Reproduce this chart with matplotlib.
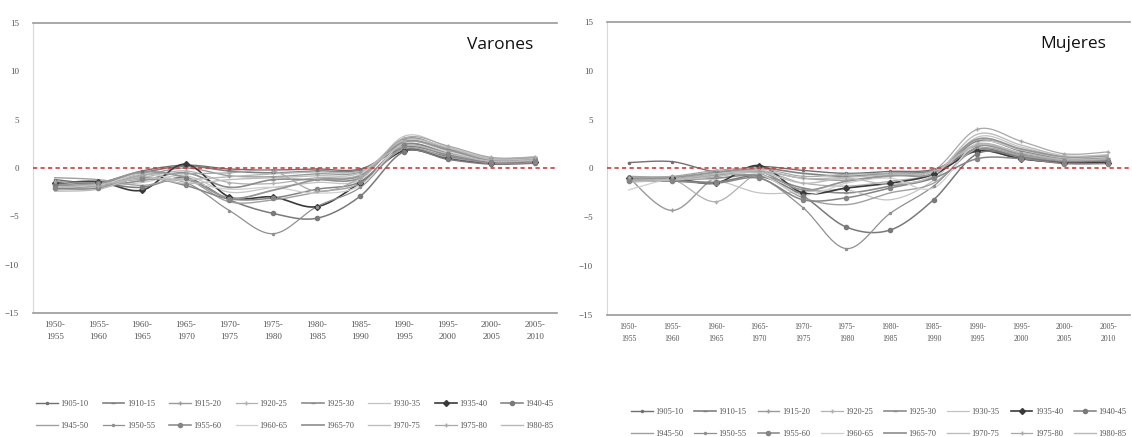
import matplotlib
matplotlib.use("Agg")
import matplotlib.pyplot as plt
import numpy as np

periodos = ["1950-\n1955", "1955-\n1960", "1960-\n1965", "1965-\n1970", "1970-\n1975", "1975-\n1980",
            "1980-\n1985", "1985-\n1990", "1990-\n1995", "1995-\n2000", "2000-\n2005", "2005-\n2010"]

cohortes = ["1905-10", "1910-15", "1915-20", "1920-25", "1925-30", "1930-35", "1935-40", "1940-45",
            "1945-50", "1950-55", "1955-60", "1960-65", "1965-70", "1970-75", "1975-80", "1980-85"]

varones = [
    [-1.2, -1.5, -0.3, 0.3, -0.1, -0.2, -0.1, -0.1, 2.0, 1.2, 0.6, 0.8],
    [-1.5, -1.6, -0.5, 0.2, -0.3, -0.5, -0.3, -0.2, 2.2, 1.4, 0.7, 0.9],
    [-1.8, -1.7, -0.8, 0.0, -0.8, -0.9, -0.6, -0.4, 2.5, 1.6, 0.8, 1.0],
    [-2.0, -1.8, -1.0, -0.3, -1.5, -1.6, -1.0, -0.7, 2.8, 1.8, 0.9, 1.0],
    [-2.2, -1.9, -1.3, -0.5, -2.0, -1.2, -1.2, -1.0, 3.0, 2.0, 1.0, 1.1],
    [-2.3, -2.0, -1.5, -0.8, -2.5, -2.0, -1.5, -1.2, 3.3, 2.2, 1.0, 1.2],
    [-1.6, -1.4, -2.3, 0.4, -3.0, -3.0, -4.0, -1.5, 1.8, 1.0, 0.5, 0.6],
    [-1.8, -1.6, -2.0, -1.0, -3.3, -4.7, -5.2, -2.9, 1.7, 0.9, 0.4, 0.5],
    [-1.0, -1.2, -1.8, -1.2, -3.5, -3.3, -2.5, -1.6, 2.0, 1.1, 0.6, 0.7],
    [-1.4, -1.5, -1.2, -1.5, -4.4, -6.8, -4.0, -2.0, 2.2, 1.3, 0.5, 0.6],
    [-2.1, -2.1, -1.0, -1.8, -3.2, -3.1, -2.2, -1.4, 2.4, 1.5, 0.6, 0.8],
    [-1.9, -1.8, -0.6, -1.4, -2.2, -2.0, -2.6, -1.8, 2.6, 1.7, 0.7, 0.9],
    [-1.7, -1.6, -0.4, -1.0, -3.1, -2.3, -1.2, -0.8, 2.7, 1.9, 0.8, 1.0],
    [-2.4, -2.2, -0.9, -1.6, -1.2, -1.0, -0.8, -0.5, 2.9, 2.1, 0.9, 1.0],
    [-1.3, -1.9, -0.7, -0.6, -0.5, -0.3, -2.4, -1.0, 3.1, 2.3, 1.1, 1.1],
    [-2.0, -1.7, -1.1, -1.2, -0.9, -0.6, -0.4, -0.3, 2.3, 1.5, 0.7, 0.8],
]

mujeres = [
    [0.6, 0.7, -0.3, 0.2, -0.2, -0.5, -0.3, -0.1, 1.8, 1.0, 0.6, 0.6],
    [-1.0, -1.0, -0.8, 0.0, -0.5, -0.8, -0.5, -0.2, 2.0, 1.2, 0.7, 0.7],
    [-0.9, -4.3, -0.9, -0.3, -1.0, -1.2, -0.8, -0.3, 2.3, 1.4, 0.8, 0.8],
    [-1.1, -1.1, -3.4, -0.5, -1.5, -1.8, -1.3, -0.5, 2.5, 1.6, 0.9, 1.0],
    [-1.2, -1.2, -1.0, -0.7, -2.0, -2.5, -1.8, -0.8, 2.8, 1.8, 1.0, 1.1],
    [-1.3, -1.1, -1.2, -2.5, -2.4, -2.2, -3.2, -1.2, 3.2, 2.2, 1.2, 1.3],
    [-1.0, -1.0, -1.5, 0.3, -2.5, -2.0, -1.5, -0.6, 1.8, 1.0, 0.6, 0.6],
    [-1.2, -1.2, -1.4, -0.8, -2.8, -6.0, -6.3, -3.2, 1.5, 1.2, 0.7, 0.8],
    [-0.8, -0.9, -0.6, -0.5, -3.0, -3.7, -2.5, -1.5, 2.0, 1.3, 0.8, 0.9],
    [-1.1, -1.0, -0.7, -0.9, -4.0, -8.2, -4.6, -1.8, 2.2, 1.5, 0.9, 1.0],
    [-1.3, -1.3, -1.5, -1.0, -3.2, -3.0, -2.0, -1.0, 1.0, 1.0, 0.5, 0.5],
    [-2.2, -1.0, -0.5, -0.6, -2.7, -1.5, -1.0, -2.0, 2.6, 1.9, 1.1, 1.2],
    [-1.0, -0.9, -0.4, -0.3, -2.2, -1.3, -0.7, -0.5, 3.0, 2.0, 1.2, 1.3],
    [-1.4, -1.2, -0.8, -0.4, -1.5, -1.0, -1.6, -0.7, 3.5, 2.4, 1.3, 1.4],
    [-0.9, -0.8, -0.2, 0.0, -0.8, -0.6, -0.5, -0.2, 4.0, 2.8, 1.5, 1.7],
    [-1.2, -1.1, -0.6, -0.2, -1.0, -0.9, -0.6, -0.3, 2.4, 1.6, 0.9, 1.0],
]

# line styles per cohort (gray shades, excel-like markers)
colores = ["#707070", "#808080", "#9a9a9a", "#b0b0b0", "#8c8c8c", "#c4c4c4", "#3a3a3a", "#7a7a7a",
           "#a0a0a0", "#909090", "#858585", "#cfcfcf", "#959595", "#bdbdbd", "#a8a8a8", "#b8b8b8"]
marcas = [".", "_", "+", "+", "_", "", "D", "o", "", ".", "o", "", "", "", "+", ""]
grosor = [1.0, 1.2, 1.0, 0.9, 1.2, 0.9, 1.2, 1.1, 1.0, 0.9, 1.1, 0.9, 1.3, 1.0, 0.9, 1.0]


def suavizar(y, n=16):
    # excel-style smoothed line (bezier with catmull-rom control points)
    y = np.asarray(y, dtype=float)
    x = np.arange(len(y), dtype=float)
    p = np.column_stack([x, y])
    pts = [p[0]]
    t = np.linspace(0, 1, n)[1:]
    for i in range(len(p) - 1):
        p0 = p[i - 1] if i > 0 else p[i]
        p3 = p[i + 2] if i + 2 < len(p) else p[i + 1]
        c1 = p[i] + (p[i + 1] - p0) / 6
        c2 = p[i + 1] - (p3 - p[i]) / 6
        seg = ((1 - t) ** 3)[:, None] * p[i] + (3 * (1 - t) ** 2 * t)[:, None] * c1 \
            + (3 * (1 - t) * t ** 2)[:, None] * c2 + (t ** 3)[:, None] * p[i + 1]
        pts.extend(seg)
    pts = np.array(pts)
    return pts[:, 0], pts[:, 1]


def panel(ax, datos, titulo, fs_x, legend_box):
    x = np.arange(len(periodos))
    handles = []
    for i, serie in enumerate(datos):
        xs, ys = suavizar(serie)
        ax.plot(xs, ys, color=colores[i], lw=grosor[i], zorder=3)
        ax.plot(x, serie, linestyle="none", marker=marcas[i] or None, ms=3,
                color=colores[i], mec=colores[i], zorder=4)
        # proxy for the legend
        h, = ax.plot([], [], color=colores[i], lw=grosor[i], marker=marcas[i] or None,
                     ms=3, label=cohortes[i])
        handles.append(h)
    ax.axhline(0, color="#d23a3a", lw=1.2, ls=(0, (2.5, 2)), zorder=5)
    ax.set_xlim(-0.5, len(periodos) - 0.5)
    ax.set_ylim(-15, 15)
    ax.set_yticks(np.arange(-15, 16, 5))
    ax.set_xticks(x)
    ax.set_xticklabels(periodos, fontsize=fs_x, color="#555555", family="Liberation Serif",
                       linespacing=1.6)
    ax.tick_params(axis="y", labelsize=6.5, labelcolor="#555555", length=0, pad=10)
    ax.tick_params(axis="x", length=0, pad=6)
    for lab in ax.get_yticklabels():
        lab.set_family("Liberation Serif")
    ax.spines["right"].set_visible(False)
    ax.spines["left"].set_color("#d8d8d8")
    ax.spines["left"].set_linewidth(0.8)
    ax.spines["top"].set_color("#9a9a9a")
    ax.spines["bottom"].set_color("#9a9a9a")
    ax.spines["top"].set_linewidth(1.2)
    ax.spines["bottom"].set_linewidth(1.2)
    ax.text(0.955, 0.925, titulo, transform=ax.transAxes, ha="right", va="center",
            fontsize=12.5, family="Open Sans", color="#111111")
    # legend filled row by row: 8 per row
    orden = [c + 8 * r for c in range(8) for r in range(2)]
    leg = ax.legend([handles[k] for k in orden], [cohortes[k] for k in orden],
                    loc="upper left", bbox_to_anchor=legend_box, mode="expand", ncol=8,
                    frameon=False, fontsize=6, handlelength=2.6, handletextpad=0.3,
                    labelspacing=1.7, borderaxespad=0)
    for t in leg.get_texts():
        t.set_color("#555555")
        t.set_family("Liberation Serif")


fig = plt.figure(figsize=(11.32, 4.37), dpi=100)
ax1 = fig.add_axes([0.029, 0.284, 0.463, 0.663])
ax2 = fig.add_axes([0.536, 0.279, 0.462, 0.671])

panel(ax1, varones, "Varones", 6.5, (0.0, -0.39, 1.0, 0.1))
panel(ax2, mujeres, "Mujeres", 5.5, (0.04, -0.405, 0.96, 0.1))

fig.savefig("out.png", dpi=100, facecolor="white")
